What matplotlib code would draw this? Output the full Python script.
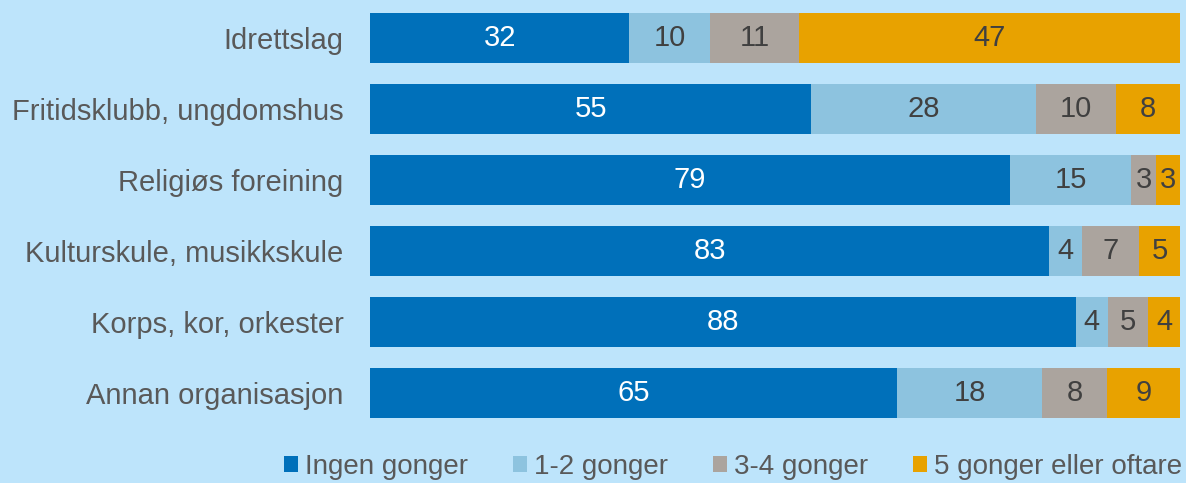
import matplotlib
matplotlib.use("Agg")
import matplotlib.pyplot as plt
import numpy as np

categories = ["Idrettslag", "Fritidsklubb, ungdomshus", "Religiøs foreining",
              "Kulturskule, musikkskule", "Korps, kor, orkester", "Annan organisasjon"]
series_names = ["Ingen gonger", "1-2 gonger", "3-4 gonger", "5 gonger eller oftare"]
ingen = [32, 55, 79, 83, 88, 65]
en_to = [10, 28, 15, 4, 4, 18]
tre_fire = [11, 10, 3, 7, 5, 8]
fem_pluss = [47, 8, 3, 5, 4, 9]

colors = ["#0070BA", "#8DC3DF", "#ABA49E", "#E8A200"]
text_colors = ["white", "#404040", "#404040", "#404040"]
bg = "#BDE4FB"

plt.rcParams["font.family"] = ["Liberation Sans", "DejaVu Sans"]

fig = plt.figure(figsize=(11.86, 4.83), dpi=100, facecolor=bg)
ax = fig.add_axes([0.312, 0.1128, 0.683, 0.882], facecolor=bg)

data = np.array([ingen, en_to, tre_fire, fem_pluss], dtype=float)
# 100 % stacked: scale each row to its total
shares = data / data.sum(axis=0) * 100

y = np.arange(len(categories))
left = np.zeros(len(categories))
for raw, vals, name, c, tc in zip(data, shares, series_names, colors, text_colors):
    ax.barh(y, vals, left=left, height=0.7, color=c, label=name)
    for yi, l, v, r in zip(y, left, vals, raw):
        ax.text(l + v / 2, yi, f"{int(r)}", ha="center", va="center",
                color=tc, fontsize=21)
    left += vals

ax.set_xlim(0, 100)
ax.set_ylim(len(categories) - 0.5, -0.5)
ax.set_yticks(y)
ax.set_yticklabels(categories, fontsize=21, color="#595959")
ax.tick_params(axis="y", length=0, pad=19)
ax.set_xticks([])
for s in ax.spines.values():
    s.set_visible(False)

fig.legend(loc="center right", bbox_to_anchor=(0.997, 0.033), ncol=4, frameon=False,
           fontsize=20, labelcolor="#595959", handlelength=0.5, handleheight=0.5,
           handletextpad=0.25, columnspacing=1.63, borderaxespad=0, borderpad=0)

fig.savefig("out.png", dpi=100, facecolor=bg)
